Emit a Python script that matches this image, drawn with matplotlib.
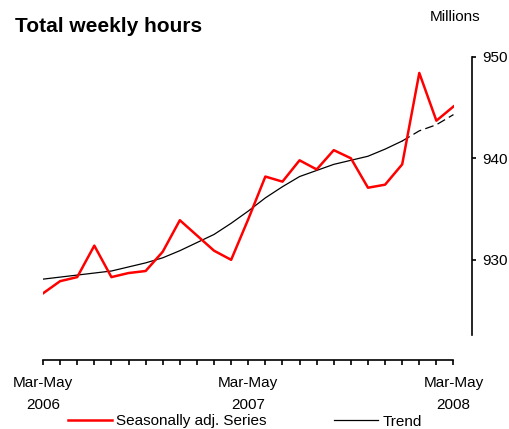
import matplotlib
matplotlib.use('Agg')
import matplotlib.pyplot as plt
from matplotlib.lines import Line2D

plt.rcParams['font.family'] = ['Liberation Sans', 'DejaVu Sans']

# ---- data ----
periods = list(range(25))  # Mar-May 2006 ... Mar-May 2008 (monthly rolling)
seasonally_adj = [926.7, 927.9, 928.3, 931.4, 928.3, 928.7, 928.9, 930.8, 933.9, 932.4,
                  930.9, 930.0, 934.0, 938.2, 937.7, 939.8, 938.9, 940.8, 940.0, 937.1,
                  937.4, 939.4, 948.4, 943.7, 945.1]
trend = [928.1, 928.3, 928.5, 928.7, 928.9, 929.3, 929.7, 930.2, 930.9, 931.7,
         932.5, 933.6, 934.8, 936.1, 937.2, 938.2, 938.8, 939.4, 939.8, 940.2,
         940.9, 941.7, 942.7, 943.3, 944.3]
trend_solid_until = 21
tick_label_pos = [0, 12, 24]
tick_labels = ["Mar-May\n2006", "Mar-May\n2007", "Mar-May\n2008"]
y_ticks = [930, 940, 950]

PX = 72 / 100  # points per pixel at dpi 100

fig = plt.figure(figsize=(5.10, 4.29), dpi=100)
ax = fig.add_axes([43/510, 1-335/429, (453.5-43)/510, (335-56.7)/429])

ax.plot(periods, seasonally_adj, color='#ff0000', lw=1.8, zorder=3)
ax.plot(periods[:trend_solid_until+1], trend[:trend_solid_until+1], color='black', lw=0.9, zorder=2)
ax.plot(periods[trend_solid_until:], trend[trend_solid_until:], color='black', lw=0.9,
        dashes=(7, 3.5), zorder=2)

ax.set_xlim(0, 24)
ax.set_ylim(922.6, 950)

for s in ['top', 'left']:
    ax.spines[s].set_visible(False)
ax.spines['right'].set_position(('outward', 18.5 * PX))
ax.spines['bottom'].set_position(('outward', 25 * PX))
ax.spines['right'].set_linewidth(1.2)
ax.spines['bottom'].set_linewidth(1.2)

ax.yaxis.tick_right()
ax.set_yticks(y_ticks)
ax.set_yticklabels([str(v) for v in y_ticks])
ax.tick_params(axis='y', direction='out', length=4 * PX, width=1.2, labelsize=11, pad=6 * PX)

ax.set_xticks(tick_label_pos)
ax.set_xticklabels(tick_labels, linespacing=1.75)
ax.set_xticks(periods, minor=True)
ax.tick_params(axis='x', which='both', direction='out', length=5 * PX, width=1.2,
               labelsize=11, pad=11 * PX)

fig.text(15/510, 1-26/429, "Total weekly hours", fontsize=15, fontweight='bold',
         va='center', ha='left')
fig.text(455/510, 1-17/429, "Millions", fontsize=11, va='center', ha='center')

handles = [Line2D([], [], color='#ff0000', lw=1.8), Line2D([], [], color='black', lw=0.9)]
fig.legend(handles, ["Seasonally adj. Series", "Trend"], ncol=2, frameon=False,
           loc='center left', bbox_to_anchor=(68/510, 1-421.5/429), fontsize=11,
           handlelength=2.9, handletextpad=0.27, columnspacing=4.4, borderaxespad=0,
           borderpad=0)

fig.savefig('out.png', dpi=100)
